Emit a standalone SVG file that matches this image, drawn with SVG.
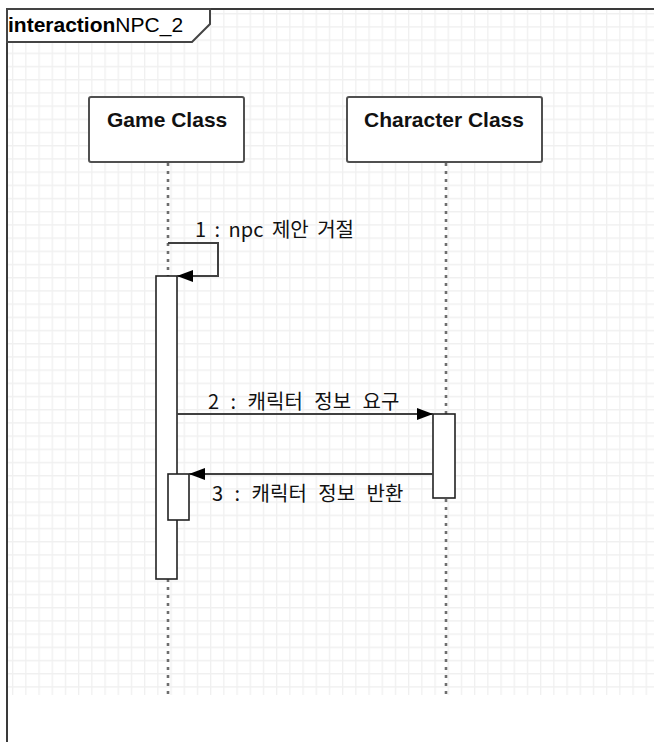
<svg xmlns="http://www.w3.org/2000/svg" width="654" height="742" viewBox="0 0 654 742">
<defs>
<pattern id="grid" patternUnits="userSpaceOnUse" x="12" y="13" width="13.2" height="13.2">
<path d="M0,0.5 H13.2 M0.5,0 V13.2" stroke="#f0f0f0" stroke-width="1.6" fill="none"/>
</pattern>
<marker id="arr" markerUnits="userSpaceOnUse" markerWidth="17" markerHeight="13" refX="16" refY="6" orient="auto">
<path d="M0,0 L16,6 L0,12 Z" fill="#000"/>
</marker>
<style>
.frame{fill:none;stroke:#3a3a3a;stroke-width:2}
.box{fill:#fff;stroke:#505050;stroke-width:2}
.act{fill:#fff;stroke:#222;stroke-width:1.6}
.life{stroke:#6e6e6e;stroke-width:2.6;stroke-dasharray:3,5;fill:none}
.msg{stroke:#404040;stroke-width:2;fill:none;marker-end:url(#arr)}
.title{font-family:"Liberation Sans",Arial,sans-serif;font-size:21px;fill:#000}
.name{font-family:"Liberation Sans",Arial,sans-serif;font-size:21px;font-weight:bold;fill:#111}
.lbl{font-family:"Noto Sans CJK KR","Noto Sans",sans-serif;font-size:20px;fill:#111;word-spacing:7px}
</style>
</defs>
<rect x="0" y="0" width="654" height="742" fill="#fff"/>
<rect x="8" y="10" width="646" height="685" fill="url(#grid)"/>
<g id="frame">
<path class="frame" d="M7,9 H654 M7,9 V742"/>
<path d="M7,9 H210 V24 L192,42 H7 Z" fill="#fff" stroke="#444" stroke-width="2"/>
<text x="8" y="32" class="title"><tspan font-weight="bold">interaction</tspan>NPC_2</text>
</g>
<g id="lifelines">
<line class="life" x1="168" y1="163" x2="168" y2="694"/>
<line class="life" x1="446" y1="163" x2="446" y2="694"/>
</g>
<g id="game">
<rect class="box" x="89" y="97" width="155" height="65" rx="2"/>
<text class="name" x="107" y="127">Game Class</text>
</g>
<g id="character">
<rect class="box" x="347" y="97" width="195" height="65" rx="2"/>
<text class="name" x="364" y="127">Character Class</text>
</g>
<g id="game-activation">
<rect class="act" x="156" y="276" width="21" height="303"/>
<rect class="act" x="168" y="474" width="21" height="46"/>
</g>
<g id="character-activation">
<rect class="act" x="433" y="414" width="22" height="84"/>
</g>
<g id="connectors">
<path class="msg" d="M168,243 H218 V276 H177"/>
<line class="msg" x1="177" y1="414" x2="433" y2="414"/>
<line class="msg" x1="433" y1="474" x2="189" y2="474"/>
</g>
<g id="labels">
<text class="lbl" x="195" y="237" style="word-spacing:4px">1 : npc 제안 거절</text>
<text class="lbl" x="208" y="409">2 : 캐릭터 정보 요구</text>
<text class="lbl" x="212" y="501">3 : 캐릭터 정보 반환</text>
</g>
</svg>
